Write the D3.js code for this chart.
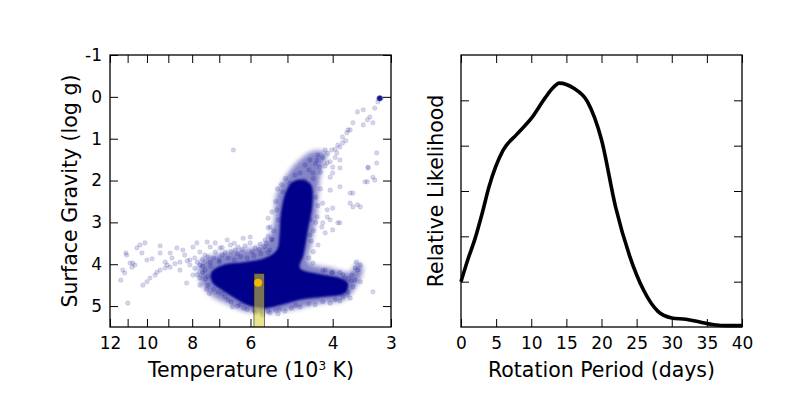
<!DOCTYPE html>
<html>
<head>
<meta charset="utf-8">
<script src="https://cdn.jsdelivr.net/npm/d3@7"></script>
<style>
  body { margin: 0; background: #fff; }
  text { font-family: "DejaVu Sans", sans-serif; fill: #000; }
</style>
</head>
<body>
<svg id="chart" width="789" height="395"></svg>
<script>
// ---- data ----
var tempTicks = [3, 4, 5, 6, 7, 8, 9, 10, 11, 12];
var tempLabels = [12, 10, 8, 6, 4, 3];
var loggTicks = [-1, 0, 1, 2, 3, 4, 5];

// saturated part of the star cloud, outline as [T (10^3 K), log g]
var coreOutline = [[7.28,4.19],[6.8,4.0],[6.2,3.95],[5.59,3.85],[5.27,3.66],[5.2,3.30],[5.17,2.82],[5.05,2.3],
  [4.9,2.05],[4.65,1.98],[4.45,2.1],[4.42,2.58],[4.52,3.18],[4.62,3.78],[4.70,4.09],[4.30,4.23],[3.86,4.33],
  [3.71,4.45],[3.76,4.69],[4.16,4.78],[4.70,4.85],[5.14,4.97],[5.59,5.05],[6.01,5.0],[6.48,4.81],[6.9,4.62],[7.25,4.43]];

// less dense halo around it
var midOutline = [[7.70,3.95],[7.15,3.78],[6.32,3.66],[5.64,3.54],[5.35,3.06],[5.28,2.35],[5.0,1.85],[4.75,1.55],
  [4.4,1.3],[4.12,1.35],[4.22,1.7],[4.28,2.11],[4.33,2.82],[4.45,3.54],[4.51,3.95],[4.05,4.09],[3.67,4.19],
  [3.54,3.95],[3.45,4.09],[3.58,4.57],[3.78,4.85],[4.26,4.93],[4.94,5.09],[5.59,5.16],[6.16,5.12],[6.76,4.93],
  [7.28,4.74],[7.70,4.38]];

var hotStars = [[11.1,3.73],[11.05,3.78],[10.87,3.97],[10.72,3.97],[10.61,4.02],[10.77,4.07],[11.27,4.14],[11.16,4.21],
  [11.38,4.38],[10.35,3.54],[10.1,3.49],[10.51,3.61],[10.25,3.73],[10.0,3.90],[9.75,3.87],[10.2,4.50],[10.0,4.42],
  [9.85,4.33],[9.61,4.26],[9.37,4.14],[9.14,4.09],[8.92,4.07],[8.71,3.99],[8.50,3.95],[9.37,3.56],[9.37,3.73],
  [8.92,3.73],[8.63,3.61],[8.38,3.66],[8.22,4.45],[8.09,3.90],[7.97,3.59],[7.82,3.49],[7.70,3.71],[7.43,3.47],
  [7.32,3.59],[7.14,3.49],[6.97,3.61],[6.73,3.42],[6.63,3.54],[6.38,3.59],[10.99,4.93],[9.14,3.95],[8.84,3.85],
  [8.30,3.78],[8.09,4.02],[7.90,3.85],[7.70,4.02],[7.51,3.78],[7.51,4.14],[7.32,3.95],[9.52,4.19],[9.05,4.02],
  [8.50,4.14],[7.97,4.26],[7.70,4.33],[7.40,4.50],[7.14,3.71],[6.9,3.78],[6.47,3.66],[6.16,3.56],[6.01,3.49],
  [5.86,3.61],[5.72,3.52],[5.58,3.42],[5.50,3.33],[6.01,3.35],[6.22,3.38],[8.2,3.92],[7.8,3.95],[7.6,3.88],
  [7.4,3.82],[7.2,3.85],[7.0,3.9],[6.8,3.72],[6.6,3.7],[6.4,3.75],[7.9,4.1],[7.3,4.05],[6.9,3.6],[6.5,3.5],
  [6.25,3.65],[5.95,3.7],[5.75,3.65],[5.6,3.58],[7.6,4.2],[7.5,4.35],[7.7,4.5],[7.45,4.6],[7.6,4.05],[7.8,4.25],
  [7.35,4.7],[7.0,3.95],[6.7,3.85],[6.5,3.9],[6.3,3.82],[6.1,3.85],[5.9,3.8],[5.7,3.75],[5.5,3.72]];

var dwarfStars = [[6.80,4.78],[7.04,4.66],[6.32,4.97],[5.86,5.14],[5.45,5.16],[5.06,5.12],[4.70,5.02],[4.36,4.97],
  [4.05,4.93],[3.86,4.88],[3.67,4.81],[6.56,5.02],[5.66,5.21],[5.24,5.19],[3.64,4.26],[3.58,4.09],[3.53,4.14],
  [3.49,4.02],[3.56,3.95],[3.62,4.54],[3.58,4.38],[3.49,4.42],[3.28,4.66],[3.71,4.66],[3.77,4.33],[3.86,4.19],
  [4.02,4.19],[4.15,4.14],[7.2,4.6],[7.4,4.3],[6.6,4.9],[6.1,5.08],[5.3,5.1],[4.9,5.05],[6.9,4.7],[6.7,4.85],
  [6.4,5.0],[6.2,5.05],[5.9,5.1],[5.7,5.12],[5.5,5.12],[5.2,5.08],[4.8,4.98],[4.5,4.95],[4.2,4.9],[3.95,4.85],
  [3.8,4.78],[3.72,4.72],[4.2,4.15],[4.0,4.2],[3.8,4.25],[3.7,4.35],[3.65,4.4]];

var giantStars = [[3.62,2.30],[3.67,2.54],[3.54,2.58],[4.0,2.66],[4.11,2.87],[4.22,3.11],[4.47,2.94],[3.86,3.01],
  [5.50,3.13],[4.47,3.30],[4.41,3.97],[4.20,3.01],[4.15,3.25],[4.0,3.18],[3.90,3.01],[4.30,3.54],[5.45,3.66],
  [5.40,3.42],[4.11,1.58],[3.92,1.34],[3.86,1.20],[3.81,1.10],[3.73,0.86],[3.67,0.79],[4.0,1.82],[3.86,2.15],
  [4.05,2.23],[4.20,2.54],[4.11,2.70],[4.05,2.94],[4.32,2.87],[4.47,1.51],[4.70,1.82],[4.94,2.06],[5.11,2.27],
  [5.27,2.70],[5.24,2.94],[5.45,3.11],[3.62,2.63],[3.49,2.63],[3.41,2.03],[3.36,1.70],[3.22,1.58],[3.25,1.99],
  [3.22,1.34],[3.67,2.30],[4.02,1.27],[3.90,1.15],[3.81,0.96],[3.71,0.79],[3.62,0.62],[3.54,0.36],[3.44,0.31],
  [3.37,0.55],[3.44,0.67],[3.33,0.48],[3.28,0.62],[3.25,0.27],[3.20,0.12],[3.36,1.68],[3.28,1.92],[3.37,2.03],
  [6.53,1.27],[4.32,1.51],[4.26,1.68],[4.41,1.82],[4.0,1.68],[3.86,1.51],[4.05,1.92],[3.86,1.70],[4.15,1.27],
  [4.30,1.39],[4.58,1.63],[4.82,1.87],[4.2,1.45],[4.1,1.35],[4.35,1.6],[4.5,1.75],[4.25,1.8],[4.15,1.65],
  [3.95,1.45],[4.05,1.55],[3.75,1.05],[3.95,1.25],[4.4,1.95],[4.6,2.0],[5.5,2.9],[5.4,2.75],[5.35,3.2],
  [5.3,2.5],[5.25,2.2],[5.15,2.1],[5.05,1.95],[5.4,3.4],[5.55,3.5],[4.35,2.4],[4.3,2.6],[4.35,3.0],[4.4,3.2],
  [4.45,3.45],[4.4,3.7],[4.5,3.85],[4.25,2.2]];

var clumpStars = [[3.17,0.03],[3.18,0.03],[3.16,0.04],[3.17,0.05],[3.18,0.02],[3.16,0.02],[3.17,0.04],
  [3.18,0.05],[3.16,0.03],[3.17,0.02],[3.19,0.04],[3.15,0.04]];

var sunT = 5.778, sunLogg = 4.44;
var sunBoxT = [5.9, 5.6], sunBoxLogg = [4.22, 5.6];

var period = [0, 1, 2, 3, 4, 6, 8, 10, 12, 13, 14, 15, 16, 18, 20, 22, 24, 26, 28, 30, 32, 34, 36, 38, 40];
var likelihood = [1.0, 1.5, 1.95, 2.5, 3.1, 3.9, 4.26, 4.6, 5.06, 5.26, 5.38, 5.35, 5.27, 4.97, 4.13, 2.65,
  1.57, 0.81, 0.35, 0.2, 0.17, 0.11, 0.05, 0.03, 0.03];
var periodTicks = [0, 5, 10, 15, 20, 25, 30, 35, 40];
var likeTicks = [1, 2, 3, 4, 5];

// ---- layout ----
var svg = d3.select('#chart');
var plotTop = 55, plotBottom = 327;
var navy = '#00008b';

var defs = svg.append('defs');
defs.append('filter').attr('id', 'soft')
  .attr('x', '-10%').attr('y', '-10%').attr('width', '120%').attr('height', '120%')
  .append('feGaussianBlur').attr('stdDeviation', 1.2);
defs.append('filter').attr('id', 'softer')
  .attr('x', '-20%').attr('y', '-20%').attr('width', '140%').attr('height', '140%')
  .append('feGaussianBlur').attr('stdDeviation', 2.6);
defs.append('clipPath').attr('id', 'clipL')
  .append('rect').attr('x', 110).attr('y', plotTop).attr('width', 281).attr('height', plotBottom - plotTop);

// ---- left panel ----
var x = d3.scaleLog().domain([12, 3]).range([110, 391]);
var y = d3.scaleLinear().domain([-1, 5.5]).range([plotTop, plotBottom]);

var left = svg.append('g');
var plot = left.append('g').attr('clip-path', 'url(#clipL)');

var poly = d3.line().x(function(d) { return x(d[0]); }).y(function(d) { return y(d[1]); })
  .curve(d3.curveCatmullRomClosed);

plot.append('path').attr('d', poly(midOutline))
  .attr('fill', navy).attr('opacity', 0.48).attr('filter', 'url(#softer)');

var allStars = hotStars.concat(dwarfStars, giantStars, clumpStars);
plot.selectAll('circle.star')
  .data(allStars)
  .enter().append('circle')
  .attr('class', 'star')
  .attr('cx', function(d) { return x(d[0]); })
  .attr('cy', function(d) { return y(d[1]); })
  .attr('r', 2.3)
  .attr('fill', navy)
  .attr('fill-opacity', 0.17)
  .attr('stroke', navy)
  .attr('stroke-opacity', 0.14)
  .attr('stroke-width', 0.6);

plot.append('path').attr('d', poly(coreOutline))
  .attr('fill', navy).attr('filter', 'url(#soft)');

plot.append('rect')
  .attr('x', x(sunBoxT[0]))
  .attr('y', y(sunBoxLogg[0]))
  .attr('width', x(sunBoxT[1]) - x(sunBoxT[0]))
  .attr('height', y(sunBoxLogg[1]) - y(sunBoxLogg[0]))
  .attr('fill', '#d8d030').attr('fill-opacity', 0.55)
  .attr('stroke', '#000').attr('stroke-opacity', 0.5).attr('stroke-width', 1);

plot.append('circle')
  .attr('cx', x(sunT)).attr('cy', y(sunLogg)).attr('r', 4)
  .attr('fill', '#f2b800');

function styleAxis(g) {
  g.select('.domain').remove();
  g.selectAll('.tick line').attr('stroke', '#000').attr('stroke-width', 1);
  g.selectAll('.tick text').style('font-size', '17px').style('font-family', '"DejaVu Sans", sans-serif');
}

left.append('g').attr('transform', 'translate(0,' + plotBottom + ')')
  .call(d3.axisBottom(x).tickValues(tempTicks).tickSizeInner(-8).tickSizeOuter(0).tickPadding(10)
    .tickFormat(function(d) { return tempLabels.indexOf(d) >= 0 ? d : ''; }))
  .call(styleAxis);
left.append('g').attr('transform', 'translate(0,' + plotTop + ')')
  .call(d3.axisTop(x).tickValues(tempTicks).tickSizeInner(-8).tickSizeOuter(0).tickFormat(''))
  .call(styleAxis);
left.append('g').attr('transform', 'translate(110,0)')
  .call(d3.axisLeft(y).tickValues(loggTicks).tickSizeInner(-8).tickSizeOuter(0).tickPadding(8)
    .tickFormat(function(d) { return d; }))
  .call(styleAxis);
left.append('g').attr('transform', 'translate(391,0)')
  .call(d3.axisRight(y).tickValues(loggTicks).tickSizeInner(-8).tickSizeOuter(0).tickFormat(''))
  .call(styleAxis);
left.append('rect').attr('x', 110).attr('y', plotTop).attr('width', 281).attr('height', plotBottom - plotTop)
  .attr('fill', 'none').attr('stroke', '#000').attr('stroke-width', 1.3);

var xl = left.append('text').attr('x', 251).attr('y', 377).attr('text-anchor', 'middle')
  .style('font-size', '20.5px');
xl.append('tspan').text('Temperature (10');
xl.append('tspan').attr('dy', -7).style('font-size', '12px').text('3');
xl.append('tspan').attr('dy', 7).text(' K)');

left.append('text').attr('transform', 'translate(77,191) rotate(-90)').attr('text-anchor', 'middle')
  .style('font-size', '20.5px').text('Surface Gravity (log g)');

// ---- right panel ----
var x2 = d3.scaleLinear().domain([0, 40]).range([461, 742]);
var y2 = d3.scaleLinear().domain([0, 6]).range([plotBottom, plotTop]);
var right = svg.append('g');

right.append('path')
  .datum(period.map(function(p, i) { return [p, likelihood[i]]; }))
  .attr('d', d3.line().x(function(d) { return x2(d[0]); }).y(function(d) { return y2(d[1]); })
    .curve(d3.curveMonotoneX))
  .attr('fill', 'none').attr('stroke', '#000').attr('stroke-width', 3.6)
  .attr('stroke-linejoin', 'round');

right.append('g').attr('transform', 'translate(0,' + plotBottom + ')')
  .call(d3.axisBottom(x2).tickValues(periodTicks).tickSizeInner(-8).tickSizeOuter(0).tickPadding(10))
  .call(styleAxis);
right.append('g').attr('transform', 'translate(0,' + plotTop + ')')
  .call(d3.axisTop(x2).tickValues(periodTicks).tickSizeInner(-8).tickSizeOuter(0).tickFormat(''))
  .call(styleAxis);
right.append('g').attr('transform', 'translate(461,0)')
  .call(d3.axisLeft(y2).tickValues(likeTicks).tickSizeInner(-8).tickSizeOuter(0).tickFormat(''))
  .call(styleAxis);
right.append('g').attr('transform', 'translate(742,0)')
  .call(d3.axisRight(y2).tickValues(likeTicks).tickSizeInner(-8).tickSizeOuter(0).tickFormat(''))
  .call(styleAxis);
right.append('rect').attr('x', 461).attr('y', plotTop).attr('width', 281).attr('height', plotBottom - plotTop)
  .attr('fill', 'none').attr('stroke', '#000').attr('stroke-width', 1.3);

right.append('text').attr('x', 601.5).attr('y', 377).attr('text-anchor', 'middle')
  .style('font-size', '20.5px').text('Rotation Period (days)');
right.append('text').attr('transform', 'translate(443,191) rotate(-90)').attr('text-anchor', 'middle')
  .style('font-size', '20.5px').text('Relative Likelihood');
</script>
</body>
</html>
